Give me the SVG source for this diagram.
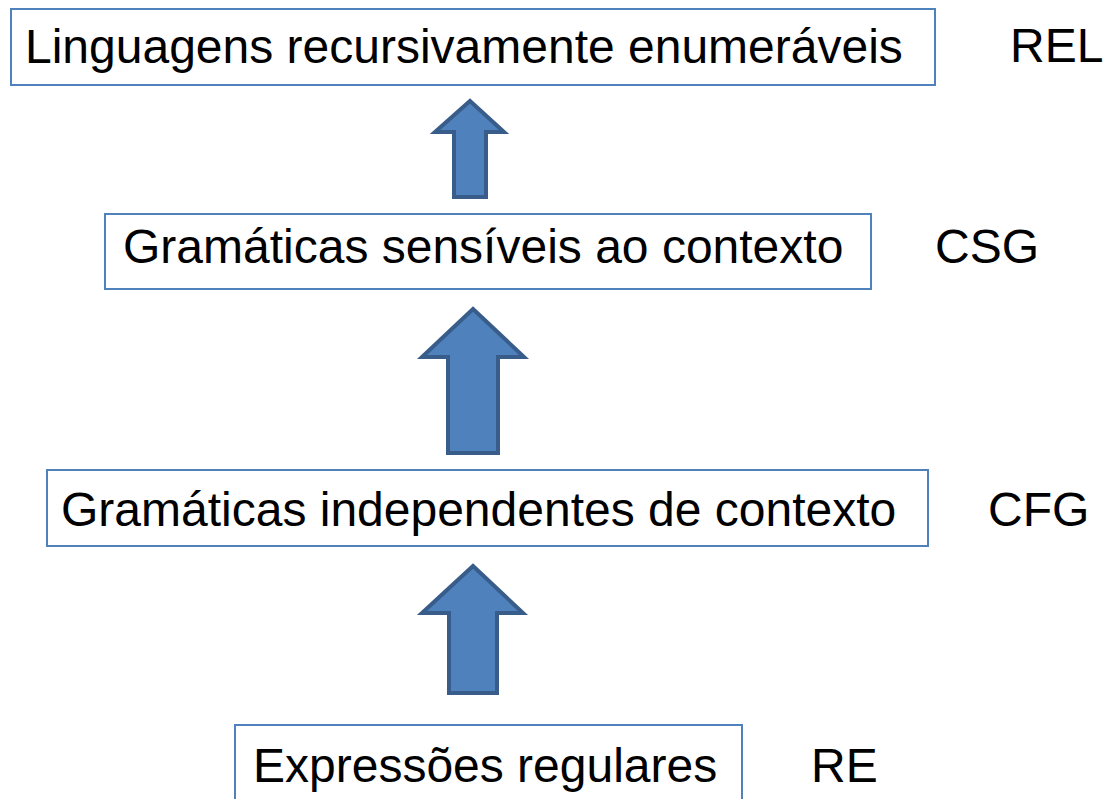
<svg xmlns="http://www.w3.org/2000/svg" width="1107" height="799" viewBox="0 0 1107 799">
<style>
.box{fill:#fff;stroke:#4F81BD;stroke-width:2}
.t{font-family:"Liberation Sans",Arial,sans-serif;font-size:48px;fill:#000}
.arr{fill:#4F81BD;stroke:#385D8A;stroke-width:4;stroke-linejoin:miter}
</style>
<rect width="1107" height="799" fill="#fff"/>
<g id="connectors">
<path class="arr" d="M470,101 L504,132 L486,132 L486,197 L454,197 L454,132 L435,132 Z"/>
<path class="arr" d="M473,309 L524,357 L498,357 L498,453 L448,453 L448,357 L422,357 Z"/>
<path class="arr" d="M473,566 L523,613 L497,613 L497,693 L449,693 L449,613 L422,613 Z"/>
</g>
<g id="rel">
<rect class="box" x="11" y="9" width="924" height="76"/>
<text class="t" x="25" y="63">Linguagens recursivamente enumeráveis</text>
</g>
<g id="rel-label"><text class="t" x="1010" y="62">REL</text></g>
<g id="csg">
<rect class="box" x="105" y="214" width="766" height="75"/>
<text class="t" x="123" y="263">Gramáticas sensíveis ao contexto</text>
</g>
<g id="csg-label"><text class="t" x="935" y="263">CSG</text></g>
<g id="cfg">
<rect class="box" x="47" y="470" width="881" height="76"/>
<text class="t" x="61" y="526">Gramáticas independentes de contexto</text>
</g>
<g id="cfg-label"><text class="t" x="988" y="526">CFG</text></g>
<g id="re">
<rect class="box" x="235" y="725" width="507" height="90"/>
<text class="t" x="253" y="782">Expressões regulares</text>
</g>
<g id="re-label"><text class="t" x="811" y="782">RE</text></g>
</svg>
